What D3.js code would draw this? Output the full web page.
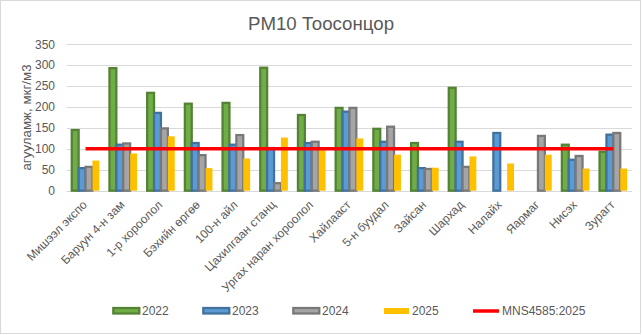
<!DOCTYPE html>
<html>
<head>
<meta charset="utf-8">
<script src="https://cdn.jsdelivr.net/npm/d3@7/dist/d3.min.js"></script>
<style>
  html, body { margin: 0; padding: 0; background: #fff; }
  svg { display: block; font-family: "Liberation Sans", Arial, sans-serif; }
</style>
</head>
<body>
<svg id="chart" width="642" height="335"></svg>
<script>
// Monitoring stations
const categories = ["Мишээл экспо", "Баруун 4-н зам", "1-р хороолол", "Бэхийн өргөө", "100-н айл",
  "Цахилгаан станц", "Ургах наран хороолол", "Хайлааст", "5-н буудал", "Зайсан",
  "Шархад", "Налайх", "Яармаг", "Нисэх", "Зурагт"];

// PM10 concentration per year, мкг/м3 (null = no measurement)
const values2022 = [145, 293, 234, 208, 210, 294, 181, 198, 148, 114, 246, null, null, 110, 93];
const values2023 = [54, 110, 186, 114, 110, 102, 114, 189, 117, 54, 117, 138, null, 74, 134];
const values2024 = [57, 113, 149, 85, 133, 18, 117, 198, 153, 52, 57, null, 131, 83, 138];
const values2025 = [72, 89, 130, 54, 77, 127, 97, 125, 86, 55, 82, 65, 86, 53, 53];

// Permitted level, MNS 4585:2025
const standardName = "MNS4585:2025";
const standardValues = [100, 100, 100, 100, 100, 100, 100, 100, 100, 100, 100, 100, 100, 100, 100];

const yTicks = [0, 50, 100, 150, 200, 250, 300, 350];
const seriesNames = ["2022", "2023", "2024", "2025"];
const seriesValues = [values2022, values2023, values2024, values2025];

const style = {
  "2022": { fill: "#70AD47", stroke: "#548235" },
  "2023": { fill: "#5B9BD5", stroke: "#41719C" },
  "2024": { fill: "#A5A5A5", stroke: "#787878" },
  "2025": { fill: "#FFC000", stroke: null }
};
const textColor = "#595959";
const gridColor = "#D9D9D9";

const svg = d3.select("#chart");

// chart frame
svg.append("rect")
  .attr("x", 0.5).attr("y", 0.5).attr("width", 640).attr("height", 333)
  .attr("fill", "#fff").attr("stroke", gridColor);

// title
svg.append("text")
  .attr("x", 321).attr("y", 29.5)
  .attr("text-anchor", "middle")
  .attr("font-size", "18.67px")
  .attr("fill", textColor)
  .text("PM10 Тоосонцор");

const plot = { left: 66.7, right: 632.2, top: 44.3, bottom: 190.7 };

const x0 = d3.scaleBand().domain(categories).range([plot.left, plot.right]).padding(0);
const gap = 10.1;
const x1 = d3.scaleBand().domain(seriesNames).range([gap / 2, x0.bandwidth() - gap / 2]).padding(0);
const y = d3.scaleLinear().domain([0, 350]).range([plot.bottom, plot.top]);

// horizontal gridlines
svg.append("g").selectAll("line")
  .data(yTicks)
  .join("line")
  .attr("x1", plot.left).attr("x2", plot.right)
  .attr("y1", d => Math.round(y(d)) + 0.5).attr("y2", d => Math.round(y(d)) + 0.5)
  .attr("stroke", gridColor).attr("stroke-width", 1);

// y tick labels
svg.append("g").selectAll("text")
  .data(yTicks)
  .join("text")
  .attr("x", 55).attr("y", d => y(d))
  .attr("dy", "0.35em")
  .attr("text-anchor", "end")
  .attr("font-size", "12px")
  .attr("fill", textColor)
  .text(d => d);

// y axis title
svg.append("text")
  .attr("transform", `translate(31,${(plot.top + plot.bottom) / 2}) rotate(-90)`)
  .attr("text-anchor", "middle")
  .attr("font-size", "13.33px")
  .attr("fill", textColor)
  .text("агууламж, мкг/м3");

// bars
seriesNames.forEach((name, si) => {
  const st = style[name];
  const g = svg.append("g");
  const data = categories.map((c, i) => ({ c, v: seriesValues[si][i] })).filter(d => d.v != null);
  const r = g.selectAll("rect")
    .data(data)
    .join("rect")
    .attr("x", d => x0(d.c) + x1(name))
    .attr("width", x1.bandwidth())
    .attr("y", d => y(d.v))
    .attr("height", d => y(0) - y(d.v))
    .attr("fill", st.fill);
  if (st.stroke) r.attr("stroke", st.stroke).attr("stroke-width", 2.25);
});

// x category labels
svg.append("g").selectAll("text")
  .data(categories)
  .join("text")
  .attr("transform", d => `translate(${x0(d) + x0.bandwidth() / 2 + 2.2},205.5) rotate(-45)`)
  .attr("text-anchor", "end")
  .attr("font-size", "12px")
  .attr("fill", textColor)
  .text(d => d);

// standard line
const line = d3.line()
  .x((d, i) => x0(categories[i]) + x0.bandwidth() / 2)
  .y(d => y(d));
svg.append("path")
  .datum(standardValues)
  .attr("d", line)
  .attr("fill", "none")
  .attr("stroke", "#FF0000")
  .attr("stroke-width", 3.5);

// legend
const legendItems = [...seriesNames, standardName];
const legendX = d3.scalePoint().domain(legendItems).range([112, 472]);
const legendY = 311;
const lg = svg.append("g").selectAll("g")
  .data(legendItems)
  .join("g")
  .attr("transform", d => `translate(${legendX(d)},0)`);

lg.each(function (d) {
  const g = d3.select(this);
  if (d === standardName) {
    g.append("line")
      .attr("x1", 1).attr("x2", 27)
      .attr("y1", legendY).attr("y2", legendY)
      .attr("stroke", "#FF0000").attr("stroke-width", 3.5);
  } else {
    const st = style[d];
    const r = g.append("rect")
      .attr("x", st.stroke ? 1.3 : 2)
      .attr("y", legendY - 3)
      .attr("width", st.stroke ? 26 : 25)
      .attr("height", st.stroke ? 5.5 : 6)
      .attr("fill", st.fill);
    if (st.stroke) r.attr("stroke", st.stroke).attr("stroke-width", 2.25);
  }
  g.append("text")
    .attr("x", 30).attr("y", legendY)
    .attr("dy", "0.35em")
    .attr("font-size", "12px")
    .attr("fill", textColor)
    .text(d);
});
</script>
</body>
</html>
